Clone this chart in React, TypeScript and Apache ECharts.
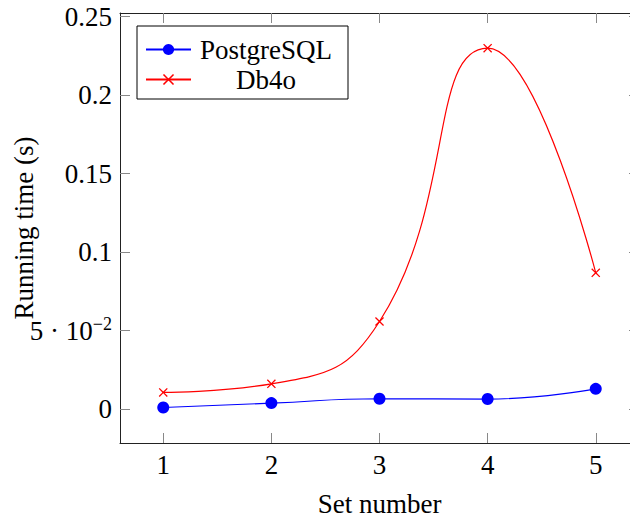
import { useEffect, useRef } from 'react';
import * as echarts from 'echarts';

const xValues = [1, 2, 3, 4, 5];
const postgresValues = [0.001, 0.0038, 0.0066, 0.0064, 0.0129];
const db4oValues = [0.0106, 0.0161, 0.0558, 0.2299, 0.0868];
const xTicks = [1, 2, 3, 4, 5];
const yTicks = [0, 0.05, 0.1, 0.15, 0.2, 0.25];
const seriesNames = ['PostgreSQL', 'Db4o'];
const xAxisTitle = 'Set number';
const yAxisTitle = 'Running time (s)';

const FONT = "'Liberation Serif', 'DejaVu Serif', serif";
const CROSS = 'path://M0,1L1,0L5,4L9,0L10,1L6,5L10,9L9,10L5,6L1,10L0,9L4,5Z';
const FS = 27;

export default function App() {
  const ref = useRef<HTMLDivElement>(null);
  useEffect(() => {
    const chart = echarts.init(ref.current!, null, { renderer: 'svg' });
    const yLabel = (v: number) =>
      Math.abs(v - 0.05) < 1e-9 ? '{b|5 · 10}{s|−2}' : `{b|${String(+v.toFixed(2))}}`;
    const axisLineStyle = { color: '#222', width: 1 };
    const tickStyle = { color: '#888', width: 1 };
    const xCommon = {
      type: 'value' as const,
      min: 0.6,
      max: 5.4,
      splitLine: { show: false },
      axisLine: { show: true, onZero: false, lineStyle: axisLineStyle },
      axisTick: { show: true, inside: true, length: 10, lineStyle: tickStyle, customValues: xTicks },
    };
    const yCommon = {
      type: 'value' as const,
      min: -0.0216,
      max: 0.2523,
      splitLine: { show: false },
      axisLine: { show: true, onZero: false, lineStyle: axisLineStyle },
      axisTick: { show: true, inside: true, length: 10, lineStyle: tickStyle, customValues: yTicks },
    };
    chart.setOption({
      animation: false,
      backgroundColor: '#fff',
      grid: { left: 120, top: 13, right: -9, bottom: 74, containLabel: false, outerBoundsMode: 'none' },
      legend: {
        orient: 'vertical',
        left: 137,
        top: 26,
        data: seriesNames,
        backgroundColor: '#fff',
        borderColor: '#000',
        borderWidth: 1,
        borderRadius: 0,
        padding: [10, 12, 6, 8],
        itemWidth: 45,
        itemHeight: 14,
        itemGap: 3,
        itemTextGap: 4,
        selectedMode: false,
        formatter: (name: string) => `{c|${name}}`,
        textStyle: {
          rich: {
            c: { width: 140, align: 'center', fontSize: FS, fontFamily: FONT, color: '#000', lineHeight: 28 },
          },
        },
      },
      xAxis: [
        {
          ...xCommon,
          position: 'bottom',
          axisLabel: { customValues: xTicks, color: '#000', fontSize: FS, fontFamily: FONT, margin: 8 },
          name: xAxisTitle,
          nameLocation: 'middle',
          nameGap: 47,
          nameMoveOverlap: false,
          nameTextStyle: { color: '#000', fontSize: FS, fontFamily: FONT },
        },
        { ...xCommon, position: 'top', axisLabel: { show: false } },
      ],
      yAxis: [
        {
          ...yCommon,
          position: 'left',
          axisLabel: {
            customValues: yTicks,
            margin: 8,
            formatter: yLabel,
            rich: {
              b: { color: '#000', fontSize: FS, fontFamily: FONT },
              s: { color: '#000', fontSize: 18, fontFamily: FONT, padding: [0, 0, 14, 0] },
            },
          },
          name: yAxisTitle,
          nameLocation: 'middle',
          nameGap: 83,
          nameMoveOverlap: false,
          nameTextStyle: { color: '#000', fontSize: FS, fontFamily: FONT },
        },
        { ...yCommon, position: 'right', axisLabel: { show: false } },
      ],
      series: [
        {
          name: seriesNames[0],
          type: 'line',
          xAxisIndex: 0,
          yAxisIndex: 0,
          smooth: 0.5,
          symbol: 'circle',
          symbolSize: 12,
          showAllSymbol: true,
          data: xValues.map((x, i) => [x, postgresValues[i]]),
          lineStyle: { color: '#0000ff', width: 1.2 },
          itemStyle: { color: '#0000ff' },
        },
        {
          name: seriesNames[1],
          type: 'line',
          xAxisIndex: 0,
          yAxisIndex: 0,
          smooth: 0.5,
          symbol: CROSS,
          symbolSize: 9,
          showAllSymbol: true,
          data: xValues.map((x, i) => [x, db4oValues[i]]),
          lineStyle: { color: '#ff0000', width: 1.2 },
          itemStyle: { color: '#ff0000' },
        },
      ],
    });
    return () => chart.dispose();
  }, []);
  return <div ref={ref} style={{ position: 'fixed', left: 0, top: 0, width: 630, height: 517 }} />;
}
